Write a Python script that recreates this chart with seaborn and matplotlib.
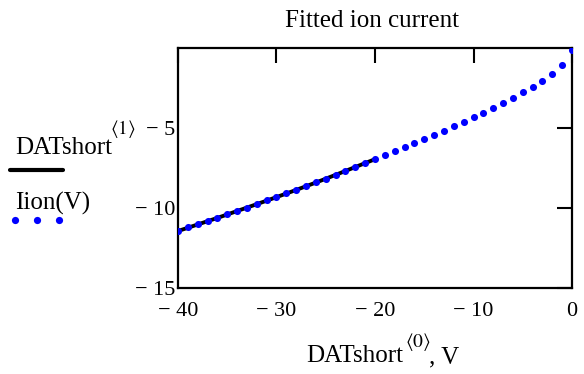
import numpy as np
import pandas as pd
import matplotlib
matplotlib.use("Agg")
import matplotlib.pyplot as plt
import seaborn as sns

# Fitted ion current Iion(V), evaluated at 1 V steps
fit_v = [-40, -39, -38, -37, -36, -35, -34, -33, -32, -31, -30,
         -29, -28, -27, -26, -25, -24, -23, -22, -21, -20,
         -19, -18, -17, -16, -15, -14, -13, -12, -11, -10,
         -9, -8, -7, -6, -5, -4, -3, -2, -1, 0]
fit_i = [-11.42, -11.21, -11.01, -10.80, -10.60, -10.39, -10.18, -9.97, -9.75, -9.53, -9.31,
         -9.09, -8.86, -8.63, -8.40, -8.16, -7.92, -7.68, -7.43, -7.19, -6.94,
         -6.71, -6.46, -6.21, -5.96, -5.71, -5.44, -5.17, -4.90, -4.61, -4.33,
         -4.04, -3.75, -3.44, -3.13, -2.78, -2.42, -2.04, -1.60, -1.08, -0.10]

# Measured probe data (DATshort columns 0 and 1)
dat_v = [-40, -38, -36, -34, -32, -30, -28, -26, -24, -22, -20]
dat_i = [-11.44, -11.03, -10.62, -10.19, -9.76, -9.32, -8.87, -8.41, -7.93, -7.44, -6.95]

x_ticks = [-40, -30, -20, -10, 0]
x_tick_labels = ["\u2212 40", "\u2212 30", "\u2212 20", "\u2212 10", "0"]
y_ticks = [-15, -10, -5]
y_tick_labels = ["\u2212 15", "\u2212 10", "\u2212 5"]

sns.set_theme(style="white")
serif = ["Liberation Serif", "DejaVu Serif"]
plt.rcParams["font.family"] = serif
plt.rcParams["mathtext.fontset"] = "stix"
plt.rcParams["text.color"] = "black"

fit_df = pd.DataFrame({"V": fit_v, "I": fit_i})
dat_df = pd.DataFrame({"V": dat_v, "I": dat_i})

W, H = 584, 374
fig = plt.figure(figsize=(W / 100, H / 100), dpi=100)
ax = fig.add_axes([178 / W, 1 - 288 / H, 394 / W, 240 / H])

sns.lineplot(data=dat_df, x="V", y="I", color="black", linewidth=2.8, ax=ax,
             estimator=None, sort=False, zorder=2)
sns.scatterplot(data=fit_df, x="V", y="I", color="#0000ff", s=26, linewidth=0,
                ax=ax, zorder=3, clip_on=True)

ax.set_xlim(-40, 0)
ax.set_ylim(-15, 0)
ax.set_xlabel("")
ax.set_ylabel("")
ax.set_xticks(x_ticks)
ax.set_xticklabels(x_tick_labels)
ax.set_yticks(y_ticks)
ax.set_yticklabels(y_tick_labels)
ax.tick_params(axis="both", direction="in", length=11, width=1.5, colors="black",
               labelcolor="black", labelsize=16, top=True, right=True)
ax.tick_params(axis="x", pad=10)
ax.tick_params(axis="y", pad=2)
for lab in ax.get_xticklabels() + ax.get_yticklabels():
    lab.set_fontfamily(serif)
for sp in ax.spines.values():
    sp.set_visible(True)
    sp.set_color("black")
    sp.set_linewidth(1.6)
ax.grid(False)


def px_text(x, y, s, size, **kw):
    """Place text at pixel coordinates (origin top-left, y = baseline)."""
    return fig.text(x / W, 1 - y / H, s, ha="left", va="baseline",
                    fontsize=size, family=serif, color="black", **kw)


fig.text(372 / W, 1 - 21 / H, "Fitted ion current", ha="center", va="center",
         fontsize=18, family=serif, color="black")

# y-axis label and legend on the left
px_text(15, 154, "DATshort", 18)
px_text(110, 134, r"$\langle 1\rangle$", 14)
fig.add_artist(plt.Line2D([10 / W, 63 / W], [1 - 170.5 / H] * 2,
                          color="black", linewidth=3.0, transform=fig.transFigure))
px_text(15, 210, "Iion(V)", 18)
fig.add_artist(plt.Line2D([15 / W, 37 / W, 59 / W], [1 - 219.5 / H] * 3,
                          color="#0000ff", linestyle="none", marker="o",
                          markersize=5.2, markeredgewidth=0, transform=fig.transFigure))

# x-axis label
px_text(306, 362, "DATshort", 18)
px_text(405, 347, r"$\langle 0\rangle$", 14)
px_text(429, 363, ", V", 18)

fig.savefig("out.png", dpi=100, facecolor="white")
